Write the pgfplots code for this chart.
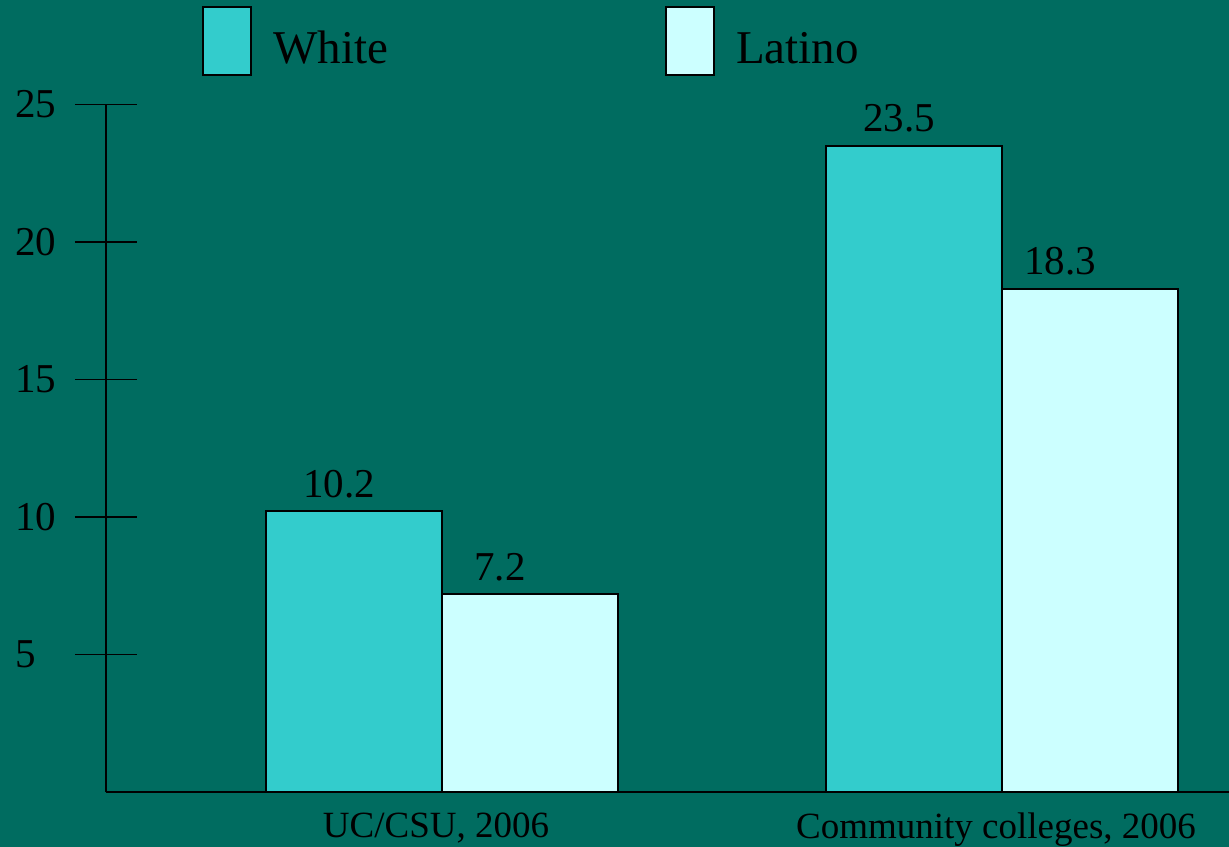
\documentclass[border=0pt]{standalone}
\usepackage{pgfplots}
\pgfplotsset{compat=1.18}
\usepackage{fontspec}
\setmainfont{Liberation Serif}
\definecolor{bg}{HTML}{006C60}
\definecolor{cWhite}{HTML}{33CCCC}
\definecolor{cLatino}{HTML}{CCFFFF}
\pgfplotsset{
  swatch/.style={legend image code/.code={\draw[##1, draw=black, line width=2bp] (0bp,-27bp) rectangle (48bp,41bp);}}
}
\begin{document}
\begin{tikzpicture}
\fill[bg] (0bp,0bp) rectangle (1229bp,847bp);
\begin{axis}[
  at={(106bp,55bp)}, anchor=south west,
  scale only axis, width=1123bp, height=687.5bp,
  xmin=-0.6, xmax=1.4054, ymin=0, ymax=25,
  axis x line=bottom, axis y line=left,
  axis line style={-, line width=1.5bp, black},
  ytick={5,10,15,20,25},
  ytick align=center, major tick length=62bp,
  ytick style={line width=1.5bp, black},
  xtick={0,1},
  xticklabels={{UC/CSU, 2006},{Community colleges, 2006}},
  x tick style={draw=none},
  xticklabel style={font=\fontsize{37bp}{40bp}\selectfont, black, xshift=-6bp, yshift=45bp},
  yticklabel style={font=\fontsize{41bp}{44bp}\selectfont, black, anchor=west, inner sep=0pt, xshift=-60bp},
  /pgf/number format/assume math mode=true,
  ybar=0pt, bar width=176bp,
  nodes near coords,
  every node near coord/.append style={font=\fontsize{41bp}{44bp}\selectfont, black, yshift=9bp},
  legend columns=2,
  legend style={draw=none, fill=none, at={(axis description cs:0.0855,1.1432)}, anchor=north west,
    font=\fontsize{47bp}{50bp}\selectfont, inner sep=0pt, column sep=19bp, row sep=0pt,
    /tikz/column 2/.style={column sep=275bp}},
]
\addplot[swatch, fill=cWhite, draw=black, line width=2bp,
  every node near coord/.append style={xshift=-15bp}] coordinates {(0,10.2) (1,23.5)};
\addlegendentry{White}
\addplot[swatch, fill=cLatino, draw=black, line width=2bp,
  every node near coord/.append style={xshift=-30bp}] coordinates {(0,7.2) (1,18.3)};
\addlegendentry{Latino}
\end{axis}
\pgfresetboundingbox
\useasboundingbox (0bp,0bp) rectangle (1229bp,847bp);
\end{tikzpicture}
\end{document}
